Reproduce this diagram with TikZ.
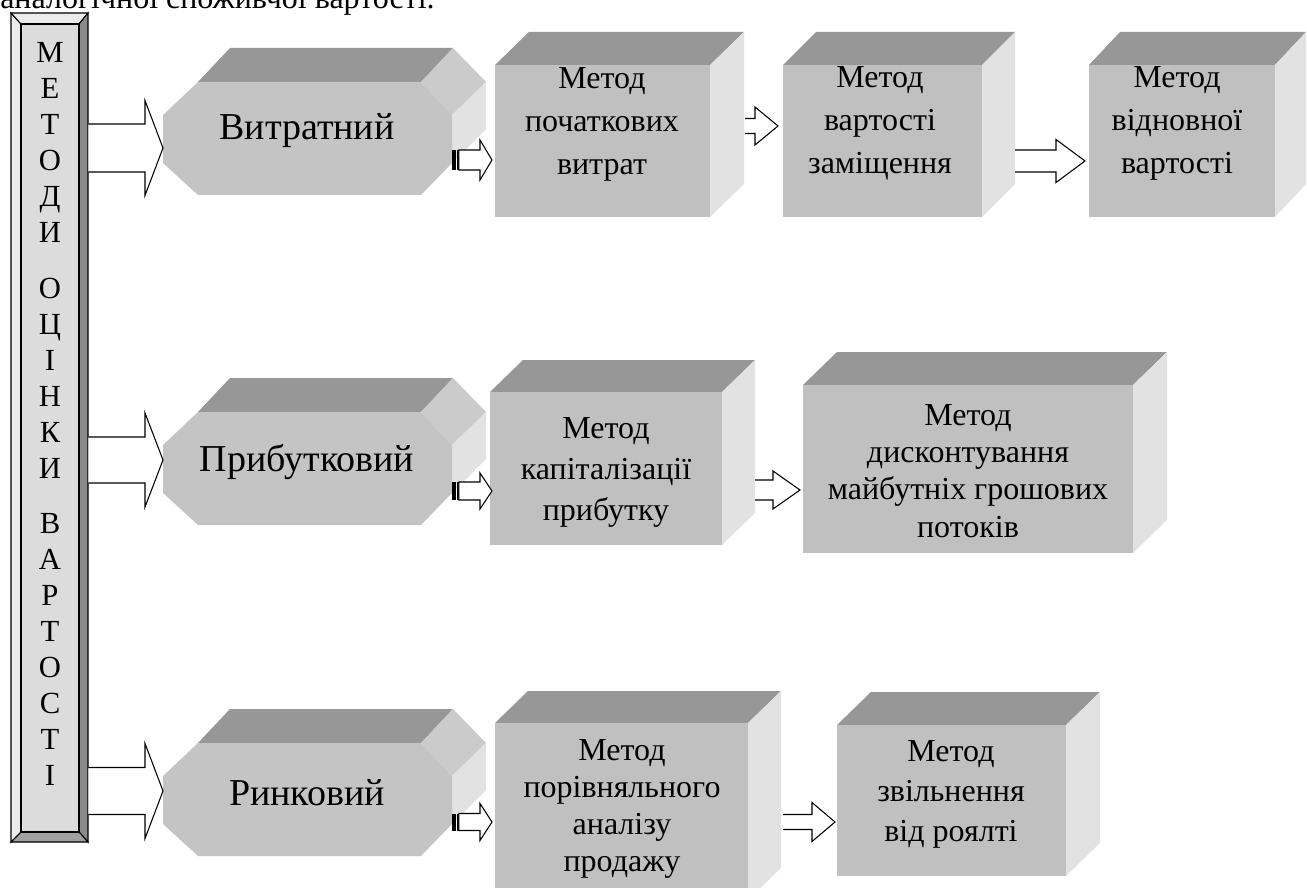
\documentclass[tikz,border=0pt]{standalone}
\usepackage{fontspec}
\setmainfont{Liberation Serif}
\usetikzlibrary{calc}
\definecolor{frontc}{HTML}{C0C0C0}
\definecolor{octfront}{HTML}{C4C4C4}
\definecolor{topc}{HTML}{979797}
\definecolor{sidec}{HTML}{E2E2E2}
\definecolor{facetc}{HTML}{CBCBCB}
\definecolor{barin}{HTML}{DCDCDC}
\definecolor{barlight}{HTML}{ECECEC}
\definecolor{bardark}{HTML}{8A8A8A}
\definecolor{barbot}{HTML}{A0A0A0}
\tikzset{
  arrline/.style={draw=black, fill=white, line width=0.8pt, line join=miter},
  bevel/.style={draw=black, line width=0.8pt},
  vletter/.style={anchor=base, inner sep=0pt, font=\fontsize{23}{23}\selectfont},
  octtext/.style={inner sep=0pt, font=\fontsize{28.5}{28.5}\selectfont},
  boxtext/.style={inner sep=0pt, align=center},
}
\newcommand\cubebox[6]{%
  \fill[topc] (#1,#2) -- ({#1+#5},{#2-#6}) -- ({#3+#5},{#2-#6}) -- (#3,#2) -- cycle;
  \fill[sidec] (#3,#2) -- ({#3+#5},{#2-#6}) -- ({#3+#5},{#4-#6}) -- (#3,#4) -- cycle;
  \fill[frontc] (#1,#2) rectangle (#3,#4);
}
\newcommand\octabox[1]{%
  \fill[topc] (198,#1) -- (230,{#1-34}) -- (453,{#1-34}) -- (421,#1) -- cycle;
  \fill[facetc] (421,#1) -- (453,{#1-34}) -- (486,#1) -- (452,{#1+33}) -- cycle;
  \fill[sidec] (452,{#1+33}) -- (486,#1) -- (486,{#1+47}) -- (452,{#1+81}) -- cycle;
  \fill[octfront] (198,#1) -- (421,#1) -- (452,{#1+33}) -- (452,{#1+81}) -- (421,{#1+113})
     -- (198,{#1+113}) -- (163,{#1+81}) -- (163,{#1+33}) -- cycle;
}
% block arrow: start, tip, shaft half, head half, head length (px)
\newcommand\blockarr[5]{%
  \path[arrline] let \p1=(#1), \p2=(#2) in
    (\x1,{\y1+#3*0.75pt}) -- ({\x2-#5*0.75pt},{\y1+#3*0.75pt}) -- ({\x2-#5*0.75pt},{\y1+#4*0.75pt})
    -- (\x2,\y1) -- ({\x2-#5*0.75pt},{\y1-#4*0.75pt}) -- ({\x2-#5*0.75pt},{\y1-#3*0.75pt})
    -- (\x1,{\y1-#3*0.75pt});
}
\newcommand\stripedarr[5]{%
  \fill let \p1=(#1) in (\x1,{\y1+#3*0.75pt}) rectangle ({\x1+3.5*0.75pt},{\y1-#3*0.75pt});
  \fill let \p1=(#1) in ({\x1+4.8*0.75pt},{\y1+#3*0.75pt}) rectangle ({\x1+6.8*0.75pt},{\y1-#3*0.75pt});
  \path[arrline] let \p1=(#1), \p2=(#2) in
    ({\x1+6.8*0.75pt},{\y1+#3*0.75pt}) -- ({\x2-#5*0.75pt},{\y1+#3*0.75pt}) -- ({\x2-#5*0.75pt},{\y1+#4*0.75pt})
    -- (\x2,\y1) -- ({\x2-#5*0.75pt},{\y1-#4*0.75pt}) -- ({\x2-#5*0.75pt},{\y1-#3*0.75pt})
    -- ({\x1+6.8*0.75pt},{\y1-#3*0.75pt}) -- cycle;
}
\begin{document}
\begin{tikzpicture}[x=0.75pt,y=-0.75pt]
\useasboundingbox (0,0) rectangle (1307,888);
\fill[white] (0,0) rectangle (1307,888);
\clip (0,0) rectangle (1307,888);

% cut-off line of text above
\node[anchor=base west, inner sep=0pt, font=\fontsize{24}{24}\selectfont] (topline) at (0,9) {аналогічної споживчої вартості.};

% vertical bar
\node[minimum width=77*0.75pt, minimum height=829*0.75pt, inner sep=0pt] (bar) at (49.5,427.5) {};
\fill[barin] (21,24) rectangle (79,832);
\filldraw[bevel, fill=barlight] (11,13) -- (21,24) -- (21,832) -- (11,842) -- cycle;
\filldraw[bevel, fill=barlight] (11,13) -- (88,13) -- (79,24) -- (21,24) -- cycle;
\filldraw[bevel, fill=bardark] (88,13) -- (88,842) -- (79,832) -- (79,24) -- cycle;
\filldraw[bevel, fill=barbot] (11,842) -- (88,842) -- (79,832) -- (21,832) -- cycle;
\draw[bevel] (21,24) rectangle (79,832);
\foreach \ch/\t [count=\i] in {М/43,Е/79,Т/115,О/151,Д/187,И/223,О/278,Ц/314,І/350,Н/386,К/422,И/458,В/513,А/549,Р/585,Т/621,О/657,С/693,Т/729,І/765}
  \node[vletter] (L\i) at (50,{\t+20}) {\ch};

% octagons
\octabox{82}
\octabox{412}
\octabox{743}
\node[octtext] (o1) at (307,131) {Витратний};
\node[octtext] (o2) at (307,462) {Прибутковий};
\node[octtext] (o3) at (307,793) {Ринковий};

% boxes
\cubebox{495}{65}{710}{217}{34}{33}
\cubebox{783}{65}{982}{217}{33}{33}
\cubebox{1089}{65}{1275}{217}{31}{33}
\cubebox{490}{392}{722}{545}{33}{32}
\cubebox{803}{385}{1133}{553}{34}{33}
\cubebox{495}{723}{748}{900}{33}{32}
\cubebox{837}{725}{1066}{876}{34}{33}

\node[boxtext, font=\fontsize{24}{32.25}\selectfont] (m11) at (602,124) {Метод\\початкових\\витрат};
\node[boxtext, font=\fontsize{24}{32.25}\selectfont] (m12) at (880,123) {Метод\\вартості\\заміщення};
\node[boxtext, font=\fontsize{24}{32.25}\selectfont] (m13) at (1177,123) {Метод\\відновної\\вартості};
\node[boxtext, font=\fontsize{24}{30.75}\selectfont] (m21) at (606,472) {Метод\\капіталізації\\прибутку};
\node[boxtext, font=\fontsize{24}{28}\selectfont] (m22) at (968,471) {Метод\\дисконтування\\майбутніх грошових\\потоків};
\node[boxtext, font=\fontsize{24}{27.75}\selectfont] (m31) at (622,809) {Метод\\порівняльного\\аналізу\\продажу};
\node[boxtext, font=\fontsize{24}{30}\selectfont] (m32) at (951,794) {Метод\\звільнення\\від роялті};

% connector end points
\coordinate (s1) at (bar.east |- 0,148);  \coordinate (t1) at (163,148);
\coordinate (s2) at (bar.east |- 0,460);  \coordinate (t2) at (163,460);
\coordinate (s3) at (bar.east |- 0,791);  \coordinate (t3) at (163,791);
\coordinate (p1) at (452,160); \coordinate (q1) at (492,160);
\coordinate (p2) at (452,491); \coordinate (q2) at (492,491);
\coordinate (p3) at (452,822); \coordinate (q3) at (492,822);
\coordinate (u1) at (745,126); \coordinate (v1) at (778,126);
\coordinate (u2) at (1015,161); \coordinate (v2) at (1085,161);
\coordinate (u3) at (755,490); \coordinate (v3) at (800,490);
\coordinate (u4) at (783,822); \coordinate (v4) at (835,822);

\blockarr{s1}{t1}{24}{47.5}{18}
\blockarr{s2}{t2}{23}{47}{18}
\blockarr{s3}{t3}{23.5}{47.5}{18}
\stripedarr{p1}{q1}{10}{20}{12}
\stripedarr{p2}{q2}{9}{18}{12}
\stripedarr{p3}{q3}{8.5}{18.5}{12}
\blockarr{u1}{v1}{7.5}{19}{23}
\blockarr{u2}{v2}{11}{21.5}{29}
\blockarr{u3}{v3}{10}{19}{27}
\blockarr{u4}{v4}{7.5}{19.5}{23}
\end{tikzpicture}
\end{document}
